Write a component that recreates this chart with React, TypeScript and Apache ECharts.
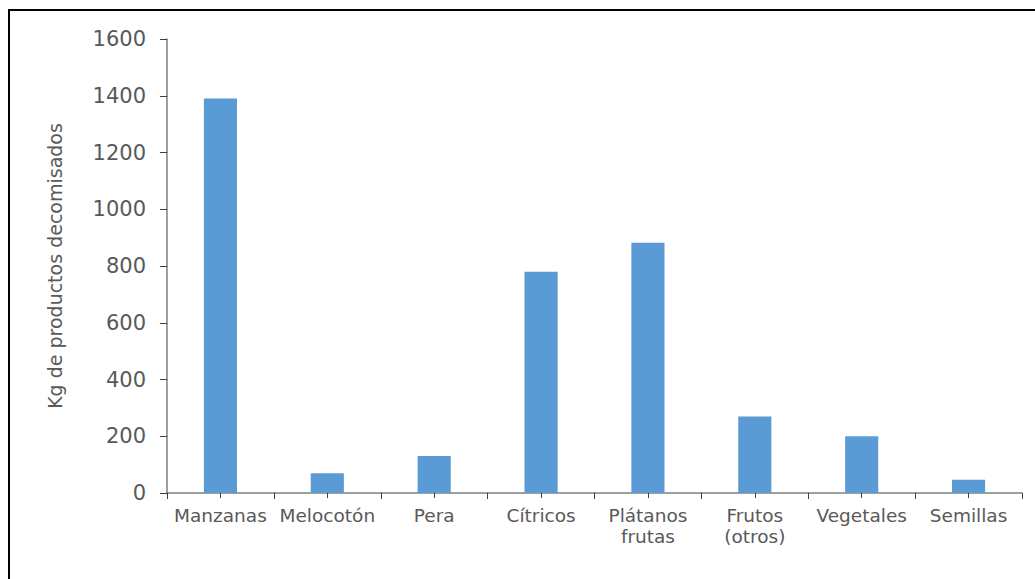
import React, { useEffect, useRef } from "react";
import * as echarts from "echarts";

const categories = ["Manzanas", "Melocotón", "Pera", "Cítricos", "Plátanos\nfrutas", "Frutos\n(otros)", "Vegetales", "Semillas"];
const values = [1390, 70, 130, 780, 882, 270, 200, 47];
const yTitle = "Kg de productos decomisados";

export default function App() {
  const ref = useRef<HTMLDivElement>(null);
  useEffect(() => {
    if (!ref.current) return;
    const chart = echarts.init(ref.current, null, { renderer: "svg" });
    const textColor = "#595959";
    const axisColor = "#7f7f7f";
    const font = "DejaVu Sans, Arial, sans-serif";
    chart.setOption({
      animation: false,
      backgroundColor: "#ffffff",
      grid: { left: 167, right: 13, top: 39, bottom: 86, containLabel: false },
      xAxis: [
        {
          type: "category",
          data: categories,
          position: "bottom",
          axisLine: { show: true, lineStyle: { color: axisColor, width: 1.5 } },
          axisTick: { show: true, alignWithLabel: false, length: 6, lineStyle: { color: "#404040" } },
          axisLabel: { color: textColor, fontSize: 18.5, fontFamily: font, margin: 12, lineHeight: 21, interval: 0 },
          splitLine: { show: false },
        },
        {
          type: "category",
          data: categories,
          position: "bottom",
          offset: 0,
          axisLine: { show: false },
          axisTick: { show: true, alignWithLabel: true, length: 5, lineStyle: { color: "#404040" } },
          axisLabel: { show: false },
          splitLine: { show: false },
        },
      ],
      yAxis: {
        type: "value",
        min: 0,
        max: 1600,
        interval: 200,
        name: yTitle,
        nameLocation: "middle",
        nameGap: 103,
        nameTextStyle: { color: textColor, fontSize: 19, fontFamily: font },
        axisLine: { show: true, lineStyle: { color: axisColor, width: 1.5 } },
        axisTick: { show: true, length: 7, lineStyle: { color: "#404040" } },
        axisLabel: { color: textColor, fontSize: 21, fontFamily: font, margin: 21, formatter: (v: number) => String(v) },
        splitLine: { show: false },
      },
      series: [
        {
          type: "bar",
          data: values,
          xAxisIndex: 0,
          barWidth: "31%",
          itemStyle: { color: "#5b9bd5" },
        },
      ],
      graphic: [
        { type: "line", shape: { x1: 8, y1: 10, x2: 1035, y2: 10 }, style: { stroke: "#000", lineWidth: 2 } },
        { type: "line", shape: { x1: 9, y1: 9, x2: 9, y2: 579 }, style: { stroke: "#000", lineWidth: 2 } },
      ],
    });
    return () => chart.dispose();
  }, []);
  return <div ref={ref} style={{ position: "fixed", left: 0, top: 0, width: 1035, height: 579 }} />;
}
